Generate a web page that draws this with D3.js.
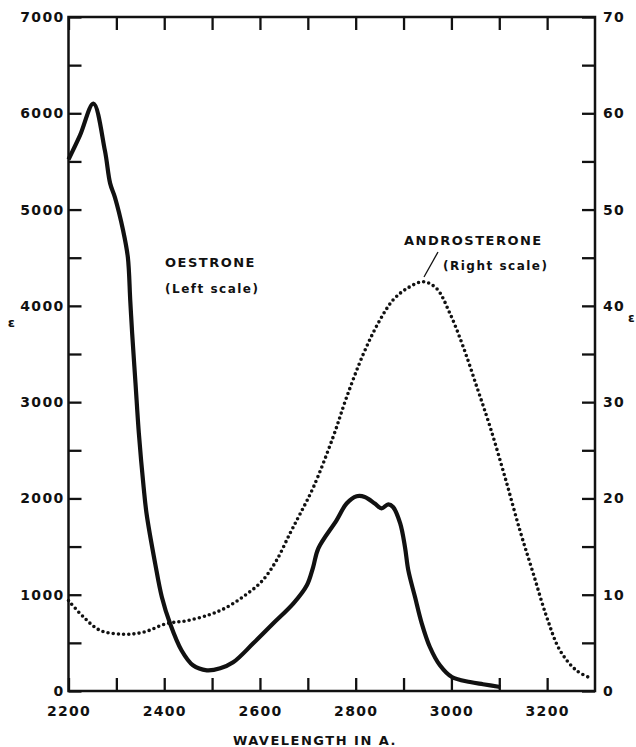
<!DOCTYPE html>
<html>
<head>
<meta charset="utf-8">
<script src="https://cdn.jsdelivr.net/npm/d3@7"></script>
<style>
  body { margin: 0; background: #fff; }
  text { font-family: 'DejaVu Sans', sans-serif; font-weight: bold; fill: #111; }
</style>
</head>
<body>
<div id="chart"></div>
<script>
// oestrone, left scale (epsilon)
const oestroneWl  = [2200, 2224, 2252, 2276, 2287, 2297, 2314, 2324, 2329, 2333, 2340, 2347, 2357, 2363, 2381, 2395, 2412, 2436, 2460, 2489, 2517, 2544, 2586, 2628, 2670, 2698, 2711, 2722, 2760, 2781, 2802, 2819, 2840, 2854, 2868, 2878, 2893, 2903, 2910, 2924, 2938, 2955, 2976, 3001, 3039, 3066, 3102];
const oestroneEps = [5520, 5770, 6100, 5614, 5272, 5127, 4785, 4504, 4058, 3715, 3196, 2676, 2116, 1845, 1326, 976, 703, 423, 267, 215, 236, 298, 495, 703, 910, 1098, 1285, 1482, 1773, 1947, 2022, 2015, 1947, 1897, 1939, 1911, 1741, 1495, 1253, 976, 703, 457, 267, 145, 93, 70, 42];

// androsterone, right scale
const androWl  = [2200, 2231, 2266, 2314, 2356, 2405, 2447, 2493, 2527, 2565, 2604, 2635, 2663, 2684, 2712, 2753, 2781, 2816, 2847, 2878, 2907, 2941, 2969, 2997, 3025, 3053, 3081, 3112, 3143, 3171, 3199, 3227, 3262, 3293];
const androEps = [9.4, 7.7, 6.3, 5.9, 6.1, 7.0, 7.3, 7.9, 8.6, 9.8, 11.4, 13.6, 16.4, 18.4, 21.2, 26.4, 30.5, 35.0, 38.2, 40.6, 41.8, 42.5, 41.8, 39.2, 35.7, 31.6, 27.4, 22.2, 16.7, 12.2, 7.7, 4.2, 2.1, 1.3];

const xTicks = d3.range(2200, 3300, 100);
const leftTicks = d3.range(0, 7001, 500);
const rightTicks = d3.range(0, 71, 5);

const W = 636, H = 747;
const plotL = 68.5, plotR = 595, plotT = 17, plotB = 691;

const svg = d3.select('#chart').append('svg')
    .attr('width', W)
    .attr('height', H);

const x = d3.scaleLinear().domain([2200, 3300]).range([plotL, plotR]),
      yL = d3.scaleLinear().domain([0, 7000]).range([plotB, plotT]),
      yR = d3.scaleLinear().domain([0, 70]).range([plotB, plotT]);

const styleAxis = g => {
  g.select('.domain').remove();
  g.selectAll('.tick line').attr('stroke', '#111').attr('stroke-width', 2.3);
  g.selectAll('.tick text').style('font-size', '14px').style('letter-spacing', '1.3px');
};

svg.append('g')
    .attr('transform', 'translate(0,' + plotB + ')')
    .call(d3.axisBottom(x).tickValues(xTicks).tickSize(-13).tickPadding(15)
      .tickFormat(d => d % 200 === 0 ? d : ''))
    .call(styleAxis);

svg.append('g')
    .attr('transform', 'translate(0,' + plotT + ')')
    .call(d3.axisTop(x).tickValues(xTicks).tickSize(-13).tickFormat(''))
    .call(styleAxis);

svg.append('g')
    .attr('transform', 'translate(' + plotL + ',0)')
    .call(d3.axisLeft(yL).tickValues(leftTicks).tickSize(-13).tickPadding(4)
      .tickFormat(d => d % 1000 === 0 ? d : ''))
    .call(styleAxis);

svg.append('g')
    .attr('transform', 'translate(' + plotR + ',0)')
    .call(d3.axisRight(yR).tickValues(rightTicks).tickSize(-13).tickPadding(8)
      .tickFormat(d => d % 10 === 0 ? d : ''))
    .call(styleAxis);

// frame
svg.append('rect')
    .attr('x', plotL).attr('y', plotT)
    .attr('width', plotR - plotL).attr('height', plotB - plotT)
    .attr('fill', 'none').attr('stroke', '#111').attr('stroke-width', 2.5);

const oLine = d3.line().curve(d3.curveCatmullRom)
    .x((d, i) => x(oestroneWl[i])).y(d => yL(d));
const aLine = d3.line().curve(d3.curveCatmullRom)
    .x((d, i) => x(androWl[i])).y(d => yR(d));

svg.append('path')
    .attr('d', oLine(oestroneEps))
    .attr('fill', 'none').attr('stroke', '#111')
    .attr('stroke-width', 4.2).attr('stroke-linejoin', 'round');

svg.append('path')
    .attr('d', aLine(androEps))
    .attr('fill', 'none').attr('stroke', '#111')
    .attr('stroke-width', 3.6).attr('stroke-linecap', 'round')
    .attr('stroke-dasharray', '0 5.2');

// labels
const label = (txt, xx, yy, size, anchor) => svg.append('text')
    .attr('x', xx).attr('y', yy)
    .attr('text-anchor', anchor || 'start')
    .style('font-size', size + 'px')
    .style('letter-spacing', '1.5px')
    .text(txt);

label('OESTRONE', 165, 267, 13);
label('(Left scale)', 165, 293, 12);
label('ANDROSTERONE', 404, 245, 13);
label('(Right scale)', 443, 270, 12);
label('WAVELENGTH IN A.', 315, 745, 13, 'middle');
label('ε', 12, 327, 13, 'middle');
label('ε', 632, 322, 12, 'middle');

svg.append('line')
    .attr('x1', 438).attr('y1', 252)
    .attr('x2', 424).attr('y2', 277)
    .attr('stroke', '#111').attr('stroke-width', 1.3);
</script>
</body>
</html>
